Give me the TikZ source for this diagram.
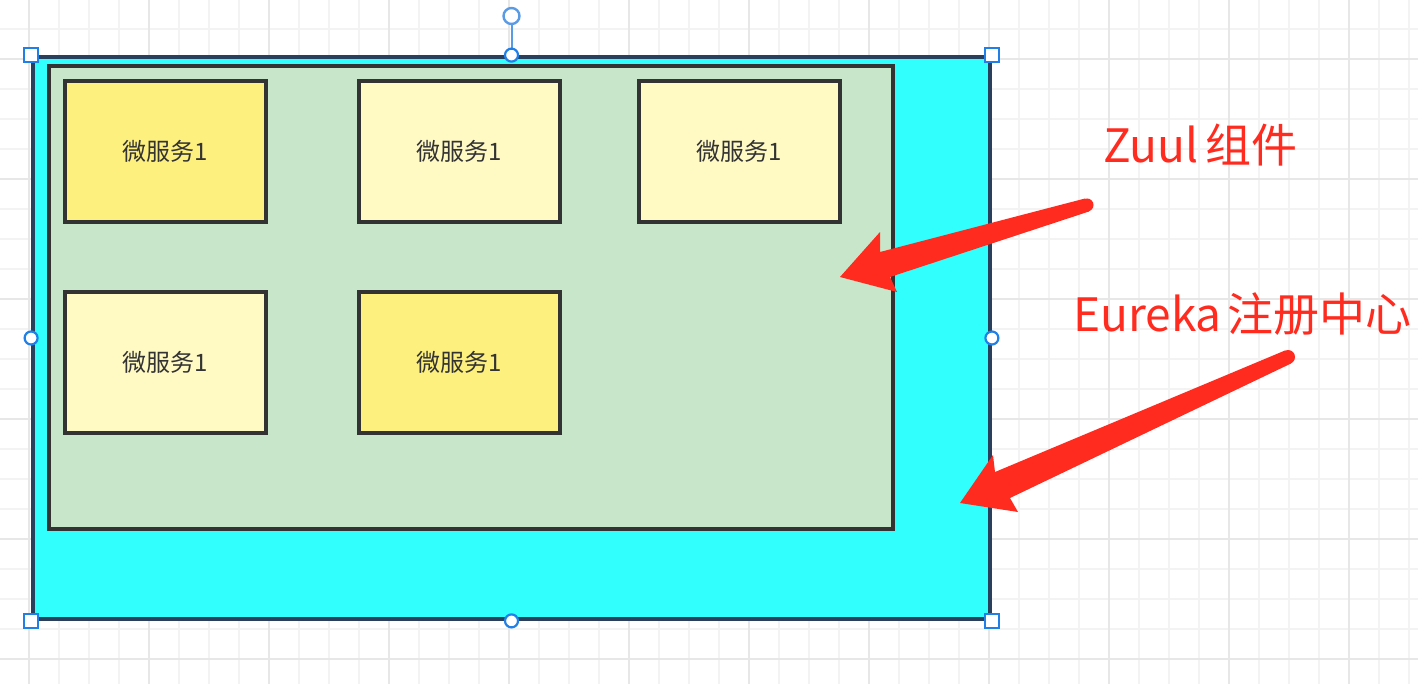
\documentclass[tikz,border=0pt]{standalone}
\usepackage{fontspec}
\setmainfont{Noto Sans CJK SC}
\definecolor{cyanfill}{HTML}{30FFFD}
\definecolor{outerborder}{HTML}{28405C}
\definecolor{greenfill}{HTML}{C8E6C9}
\definecolor{boxborder}{HTML}{333333}
\definecolor{yellowdark}{HTML}{FDF07F}
\definecolor{yellowlight}{HTML}{FFF9C4}
\definecolor{arrowred}{HTML}{FF2B1F}
\definecolor{handleblue}{HTML}{2180E8}
\definecolor{rotline}{HTML}{5A9BE6}
\definecolor{gridminor}{HTML}{F3F3F3}
\definecolor{gridmajor}{HTML}{E7E7E7}
\begin{document}
\begin{tikzpicture}[x=1pt,y=-1pt,
  minorline/.style={draw=gridminor,line width=2pt},
  majorline/.style={draw=gridmajor,line width=2pt},
  outerbox/.style={draw=outerborder,fill=cyanfill,line width=3.8pt,minimum width=957pt,minimum height=562pt,inner sep=0pt},
  innerbox/.style={draw=boxborder,fill=greenfill,line width=3.5pt,minimum width=844pt,minimum height=463pt,inner sep=0pt},
  svcbox/.style={draw=boxborder,line width=3.5pt,minimum width=201pt,minimum height=141pt,inner sep=0pt,text=boxborder,font=\fontsize{24}{28}\selectfont},
  svcdark/.style={svcbox,fill=yellowdark},
  svclight/.style={svcbox,fill=yellowlight},
  sqhandle/.style={draw=handleblue,fill=white,line width=2.4pt,minimum size=14pt,inner sep=0pt},
  cirhandle/.style={circle,draw=handleblue,fill=white,line width=2.2pt,minimum size=13pt,inner sep=0pt},
  rothandle/.style={circle,draw=rotline,fill=white,line width=2.4pt,minimum size=16pt,inner sep=0pt},
  lbl/.style={text=arrowred,font=\fontsize{46}{50}\selectfont,inner sep=0pt},
  redshape/.style={fill=arrowred}
]
\useasboundingbox (0,0) rectangle (1418,684);
\fill[white] (0,0) rectangle (1418,684);
% grid
\foreach \i in {0,...,46} \draw[minorline] ({29+30*\i},0) -- ({29+30*\i},684);
\foreach \i in {0,...,21} \draw[minorline] (0,{29+30*\i}) -- (1418,{29+30*\i});
\foreach \i in {0,...,11} \draw[majorline] ({29+120*\i},0) -- ({29+120*\i},684);
\foreach \i in {0,...,5} \draw[majorline] (0,{59+120*\i}) -- (1418,{59+120*\i});
% containers
\node[outerbox] (eureka) at (511.5,338) {};
\node[innerbox] (zuul) at (471,297.5) {};
% services
\node[svcdark]  (s1) at (165.5,151.5) {微服务1};
\node[svclight] (s2) at (459.5,151.5) {微服务1};
\node[svclight] (s3) at (739.5,151.5) {微服务1};
\node[svclight] (s4) at (165.5,362.5) {微服务1};
\node[svcdark]  (s5) at (459.5,362.5) {微服务1};
% selection handles
\node[rothandle] (rot) at (511.5,16) {};
\draw[rotline,line width=2pt] (rot) -- (eureka.north);
\node[sqhandle] (hnw) at (eureka.north west) {};
\node[sqhandle] (hne) at (eureka.north east) {};
\node[sqhandle] (hsw) at (eureka.south west) {};
\node[sqhandle] (hse) at (eureka.south east) {};
\node[cirhandle] (hn) at (eureka.north) {};
\node[cirhandle] (hs) at (eureka.south) {};
\node[cirhandle] (hw) at (eureka.west) {};
\node[cirhandle] (he) at (eureka.east) {};
% arrows
\coordinate (a1tail) at (1087,205);
\coordinate (a1tip) at (840,277);
\fill[redshape] (1085,198.5) -- (880,252) -- (880,232) -- (a1tip) -- (897,292) -- (890,277) -- (1089,211.5) -- cycle;
\fill[redshape] (a1tail) circle (6.5);
\coordinate (a2tail) at (1288,357);
\coordinate (a2tip) at (960,503);
\fill[redshape] (1285,350.5) -- (995,472) -- (993,455) -- (a2tip) -- (1018,512) -- (1010,498) -- (1291,363.5) -- cycle;
\fill[redshape] (a2tail) circle (7);
% labels
\node[lbl,anchor=base west] (zuullbl) at (1103,163) {Zuul\hspace{7pt}组件};
\node[lbl,anchor=base west] (eurekalbl) at (1073,332) {Eureka\hspace{6pt}注册中心};
\end{tikzpicture}
\end{document}
